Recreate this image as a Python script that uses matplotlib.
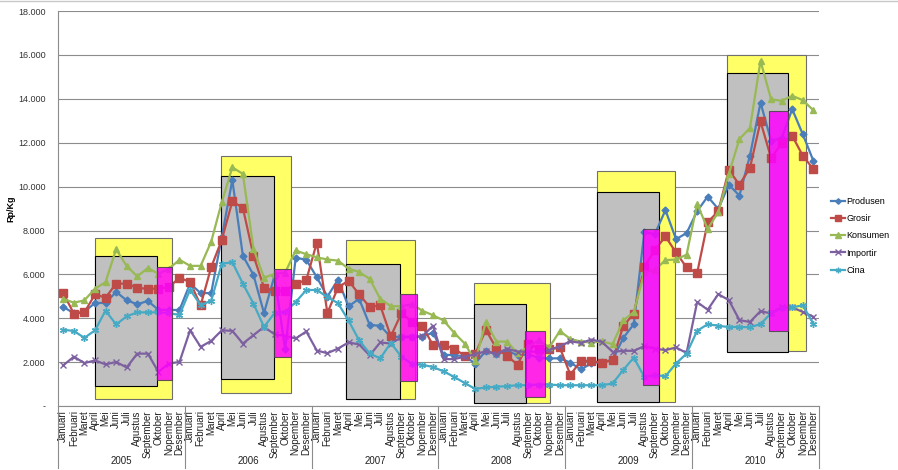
import matplotlib
matplotlib.use("Agg")
from matplotlib import pyplot as plt
import matplotlib.transforms as mtransforms
import matplotlib.ticker as mticker

# Set constants
font = {'family': ['Liberation Sans', 'DejaVu Sans'], 'size': 7}
matplotlib.rc('font', **font)

months = ["Januari", "Februari", "Maret", "April", "Mei", "Juni", "Juli",
          "Agustus", "September", "Oktober", "Nopember", "Desember"]
years = ["2005", "2006", "2007", "2008", "2009", "2010"]

# Rp/Kg, Jan 2005 .. Dec 2010
produsen = [4520, 4230, 4300, 4700, 4700, 5200, 4820, 4640, 4790, 4390, 4380, 4380,
            5580, 5150, 5150, 7700, 10300, 6850, 5980, 4240, 5950, 2580, 6760, 6670,
            5870, 4990, 5760, 4540, 4890, 3700, 3660, 3150, 3160, 3170, 3160, 3350,
            2340, 2320, 2270, 1940, 2520, 2360, 2530, 2320, 2350, 2210, 2170, 2180,
            1980, 1670, 1950, 2020, 2100, 3100, 3730, 7920, 7840, 8930, 7610, 7880,
            8880, 9550, 8980, 10090, 9590, 11410, 13830, 12090, 12210, 13530, 12390, 11180]
grosir = [5150, 4210, 4270, 5090, 4940, 5580, 5580, 5380, 5350, 5350, 5420, 5850,
          5650, 4590, 6330, 7570, 9330, 9030, 6860, 5400, 5250, 5240, 5580, 5740,
          7450, 4240, 5400, 5720, 5090, 4520, 4590, 3180, 4220, 3850, 3640, 2770,
          2770, 2620, 2290, 2370, 3480, 2620, 2300, 1880, 2850, 2620, 2580, 2670,
          1430, 2060, 2060, 1970, 2090, 3640, 4210, 6340, 7120, 7730, 7000, 6320,
          6060, 8380, 8880, 10760, 10090, 10850, 12970, 11300, 11970, 12320, 11410, 10800]
konsumen = [4890, 4710, 4820, 5350, 5650, 7150, 6380, 5910, 6290, 6030, 6260, 6670,
            6390, 6390, 7490, 9290, 10880, 10580, 7170, 5850, 6030, 6080, 7090, 6920,
            6780, 6680, 6630, 6260, 6110, 5800, 4890, 4550, 4550, 4640, 4340, 4140,
            3900, 3340, 2850, 2050, 3830, 2940, 2940, 2400, 2700, 3000, 2670, 3420,
            3060, 2940, 2890, 2950, 2820, 3900, 4280, 6090, 6210, 6650, 6680, 6900,
            9210, 8080, 8830, 10580, 12170, 12670, 15730, 13980, 13910, 14140, 13940, 13480]
importir = [1860, 2250, 1960, 2080, 1900, 2010, 1760, 2390, 2390, 1560, 1940, 2010,
            3450, 2700, 2970, 3450, 3430, 2850, 3230, 3610, 3270, 3200, 3080, 3400,
            2530, 2410, 2620, 2900, 2810, 2310, 2900, 2850, 3130, 3150, 3190, 3660,
            2140, 2140, 2250, 2360, 2500, 2370, 2620, 2480, 2480, 2480, 2550, 2730,
            2950, 2880, 3030, 2920, 2470, 2520, 2520, 2730, 2620, 2550, 2670, 2420,
            4740, 4390, 5100, 4830, 3920, 3830, 4330, 4220, 4520, 4500, 4290, 4070]
cina = [3480, 3420, 3110, 3450, 4350, 3720, 4090, 4270, 4270, 4270, 4240, 4150,
        5300, 4600, 4800, 6480, 6560, 5580, 4670, 3610, 4240, 4290, 4740, 5290,
        5290, 4970, 4690, 3900, 3000, 2400, 2170, 2880, 2250, 1920, 1880, 1780,
        1580, 1330, 1050, 780, 850, 880, 910, 950, 950, 980, 980, 950,
        950, 950, 950, 950, 1030, 1640, 2210, 1330, 1410, 1360, 1940, 2390,
        3430, 3730, 3660, 3600, 3610, 3590, 3740, 4230, 4460, 4500, 4590, 3760]

# highlight boxes: (from month, to month, low Rp, high Rp); month 0 = Januari 2005
yellow_boxes = [(2.97, 10.26, 320, 7670), (14.97, 21.55, 580, 11380),
                (26.77, 33.34, 310, 7590), (38.89, 46.11, 150, 5620),
                (50.52, 57.92, 170, 10710), (62.84, 70.27, 2500, 15990)]
grey_boxes = [(2.97, 8.89, 910, 6850), (14.97, 19.93, 1230, 10480),
              (26.77, 31.92, 300, 6470), (38.89, 43.84, 150, 4650),
              (50.52, 56.39, 170, 9750), (62.84, 68.61, 2470, 15200)]
magenta_boxes = [(8.89, 10.26, 1170, 6360), (19.93, 21.6, 2240, 6260),
                 (31.92, 33.5, 1160, 5110), (43.75, 45.57, 430, 3440),
                 (54.89, 56.39, 940, 8060), (66.81, 68.61, 3420, 13440)]


def draw_boxes(ax, boxes, color, edge, z, alpha=1.0):
    for x0, x1, lo, hi in boxes:
        ax.bar(x0, hi - lo, width=x1 - x0, bottom=lo, align='edge', color=color,
               edgecolor=edge, linewidth=0.8, zorder=z, alpha=alpha)


def main():
    fig = plt.figure(figsize=(8.98, 4.70), dpi=100)
    ax = fig.add_axes([0.0646, 0.136, 0.847, 0.8404])

    draw_boxes(ax, yellow_boxes, "#ffff66", "#6f6f6f", 1)
    draw_boxes(ax, grey_boxes, "#c0c0c0", "black", 1.5)

    x = list(range(len(produsen)))
    series = [
        ("Produsen", produsen, "#4a7ebb", "D", 3.5),
        ("Grosir", grosir, "#be4b48", "s", 5.5),
        ("Konsumen", konsumen, "#98b954", "^", 5),
        ("Importir", importir, "#7d60a0", "x", 5),
        ("Cina", cina, "#46aac5", (6, 2, 0), 5),
    ]
    for name, vals, col, mk, ms in series:
        ax.plot(x, vals, color=col, lw=1.6, marker=mk, markersize=ms,
                markeredgewidth=1.0, label=name, zorder=3)

    # magenta on top, lines still show through a bit
    draw_boxes(ax, magenta_boxes, "#ff00ff", "#444444", 4, alpha=0.85)

    ax.set_xlim(-0.5, 71.5)
    ax.set_ylim(0, 18000)
    ax.set_yticks(range(0, 18001, 2000))
    ax.yaxis.set_major_formatter(mticker.FuncFormatter(
        lambda v, p: "-" if v == 0 else "{:,.0f}".format(v).replace(",", ".")))
    ax.grid(axis="y", color="#8c8c8c", lw=0.8, zorder=0)
    ax.set_axisbelow(True)
    ax.tick_params(axis="y", length=0, pad=9, labelsize=6.5, labelcolor="#333333")
    ax.set_ylabel("Rp/Kg", fontsize=6.5, fontweight="bold")
    ax.yaxis.set_label_coords(-0.056, 0.5)

    ax.set_xticks(x)
    ax.set_xticklabels(months * len(years), rotation=90, fontsize=7, color="#222222")
    ax.tick_params(axis="x", length=0, pad=3)

    for s in ["top", "right"]:
        ax.spines[s].set_visible(False)
    for s in ["left", "bottom"]:
        ax.spines[s].set_color("#8c8c8c")

    # year labels and dividers below axis
    trans = mtransforms.blended_transform_factory(ax.transData, ax.transAxes)
    for k, yr in enumerate(years):
        ax.text(k * 12 + 5.5, -0.139, yr, transform=trans, ha="center", va="center",
                fontsize=7, color="#222222")
    for k in range(len(years) + 1):
        ax.plot([k * 12 - 0.5] * 2, [0, -0.157], transform=trans, color="#8c8c8c",
                lw=0.8, clip_on=False)

    ax.legend(loc="center left", bbox_to_anchor=(0.918, 0.498),
              bbox_transform=fig.transFigure, frameon=False, fontsize=6.5,
              handlelength=1.6, handletextpad=0.1, labelspacing=0.9,
              borderpad=0.2, markerscale=0.8)

    fig.add_artist(plt.Line2D([0, 1], [0.997, 0.997], color="#c8c8c8", lw=1,
                              transform=fig.transFigure))

    # save the plot
    fig.savefig("out.png", dpi=100)


if __name__ == '__main__':
    main()
